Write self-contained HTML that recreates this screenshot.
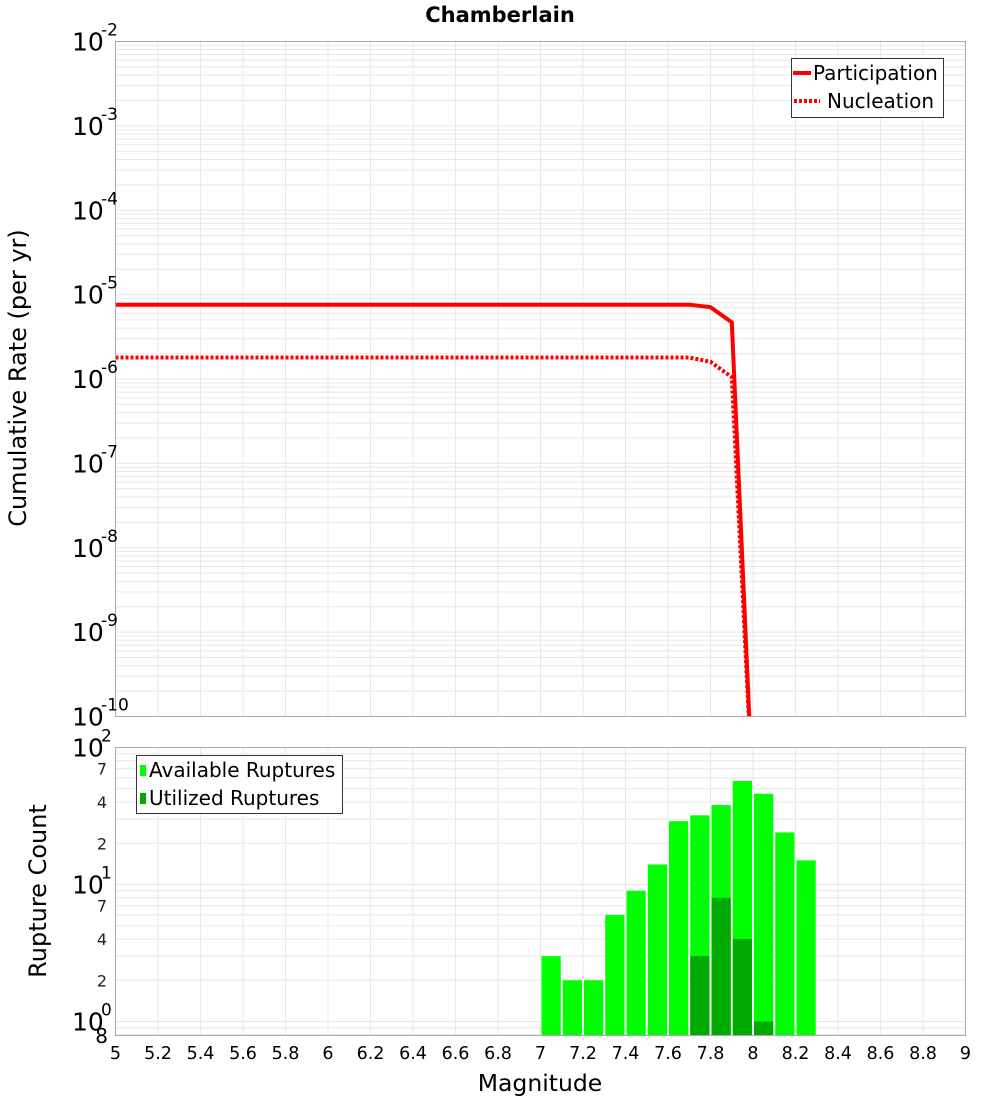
<!DOCTYPE html>
<html><head><meta charset="utf-8"><style>
body{margin:0;background:#fff;}
svg{display:block;font-family:"DejaVu Sans","Liberation Sans",sans-serif;}
</style></head><body>
<svg id="chart" width="1000" height="1100" viewBox="0 0 1000 1100">
<text x="500" y="22" text-anchor="middle" font-size="21" font-weight="bold">Chamberlain</text>
<g id="topplot"></g>
<g id="botplot"></g>
<text transform="translate(26,378) rotate(-90)" text-anchor="middle" font-size="24">Cumulative Rate (per yr)</text>
<text transform="translate(46,891) rotate(-90)" text-anchor="middle" font-size="24">Rupture Count</text>
<text x="540" y="1091" text-anchor="middle" font-size="23.5">Magnitude</text>
<g id="legends">
<g>
<rect x="791.5" y="58.5" width="152" height="59" fill="#fff" stroke="#333"/>
<line x1="793" y1="73" x2="811" y2="73" stroke="#f00" stroke-width="4"/>
<text x="813" y="80" font-size="20">Participation</text>
<line x1="794" y1="101" x2="820" y2="101" stroke="#f00" stroke-width="4" stroke-dasharray="3,2"/>
<text x="827" y="108" font-size="20">Nucleation</text>
</g>
<g>
<rect x="136.5" y="755.5" width="206" height="58" fill="#fff" stroke="#333"/>
<rect x="140" y="765" width="6" height="11" fill="#00ff00"/>
<text x="149" y="777" font-size="20">Available Ruptures</text>
<rect x="140" y="793" width="6" height="11" fill="#00aa00"/>
<text x="149" y="805" font-size="20">Utilized Ruptures</text>
</g>
</g>
</svg>
<script>
const mags = [5.0,5.1,5.2,5.3,5.4,5.5,5.6,5.7,5.8,5.9,6.0,6.1,6.2,6.3,6.4,6.5,6.6,6.7,6.8,6.9,7.0,7.1,7.2,7.3,7.4,7.5,7.6,7.7,7.8,7.9,8.0];
const participation = [7.6e-6,7.6e-6,7.6e-6,7.6e-6,7.6e-6,7.6e-6,7.6e-6,7.6e-6,7.6e-6,7.6e-6,7.6e-6,7.6e-6,7.6e-6,7.6e-6,7.6e-6,7.6e-6,7.6e-6,7.6e-6,7.6e-6,7.6e-6,7.6e-6,7.6e-6,7.6e-6,7.6e-6,7.6e-6,7.6e-6,7.6e-6,7.6e-6,7.1e-6,4.7e-6,1e-11];
const nucleation = [1.8e-6,1.8e-6,1.8e-6,1.8e-6,1.8e-6,1.8e-6,1.8e-6,1.8e-6,1.8e-6,1.8e-6,1.8e-6,1.8e-6,1.8e-6,1.8e-6,1.8e-6,1.8e-6,1.8e-6,1.8e-6,1.8e-6,1.8e-6,1.8e-6,1.8e-6,1.8e-6,1.8e-6,1.8e-6,1.8e-6,1.8e-6,1.8e-6,1.6e-6,1.05e-6,1e-11];
const binStarts = [7.0,7.1,7.2,7.3,7.4,7.5,7.6,7.7,7.8,7.9,8.0,8.1,8.2];
const available = [3,2,2,6,9,14,29,32,38,57,46,24,15];
const utilized = [0,0,0,0,0,0,0,3,8,4,1,0,0];
const xTicks = [5,5.2,5.4,5.6,5.8,6,6.2,6.4,6.6,6.8,7,7.2,7.4,7.6,7.8,8,8.2,8.4,8.6,8.8,9];
const topExps = [-2,-3,-4,-5,-6,-7,-8,-9,-10];
const botExps = [2,1,0];
const botMinor = [2,4,7];

const NS="http://www.w3.org/2000/svg";
const X0=115.5,X1=965.5;
const xs=m=>X0+(m-5)/4*(X1-X0);
const TT=41.5,TB=716.5;
const yT=v=>TT+(-2-Math.log10(v))/8*(TB-TT);
const BT=747.5,BB=1035.5,PD=137;
const yB=v=>BT+(2-Math.log10(v))*PD;
function mk(p,tag,a){const e=document.createElementNS(NS,tag);for(const k in a)e.setAttribute(k,a[k]);p.appendChild(e);return e;}
const svgEl=document.getElementById('chart');
const topG=document.getElementById('topplot'),botG=document.getElementById('botplot');

// top plot
mk(topG,'rect',{x:X0,y:TT,width:X1-X0,height:TB-TT,fill:'#fff'});
for(let d=-10;d<-2;d++)for(let k=1;k<10;k++){const y=yT(k*Math.pow(10,d));if(y<TT||y>TB)continue;
 const l=mk(topG,'line',{x1:X0,x2:X1,y1:y,y2:y,stroke:'#e8e8e8','stroke-width':1});
 
 }
for(const t of xTicks){const l=mk(topG,'line',{x1:xs(t),x2:xs(t),y1:TT,y2:TB,stroke:'#e8e8e8'});
 
 }
const defs=mk(svgEl,'defs',{});
const cp=mk(defs,'clipPath',{id:'cl'});mk(cp,'rect',{x:X0,y:TT,width:X1-X0,height:TB-TT});
function drawLine(vals,dash,name){const pts=mags.map((m,i)=>xs(m).toFixed(1)+','+yT(vals[i]).toFixed(1)).join(' ');
 const p=mk(topG,'polyline',{points:pts,fill:'none',stroke:'#f00','stroke-width':4,'clip-path':'url(#cl)'});
 if(dash)p.setAttribute('stroke-dasharray',dash);
 
 }
drawLine(nucleation,'3,2','nucleation-line');
drawLine(participation,null,'participation-line');
mk(topG,'rect',{x:X0,y:TT,width:X1-X0,height:TB-TT,fill:'none',stroke:'#aaa'});
for(const e of topExps){const y=yT(Math.pow(10,e));
 const t=mk(topG,'text',{x:72,y:y+9,'font-size':25});t.textContent='10';
 
 
 const s=mk(topG,'text',{x:101,y:y-6,'font-size':17});s.textContent=String(e);
 
 }

// bottom plot
mk(botG,'rect',{x:X0,y:BT,width:X1-X0,height:BB-BT,fill:'#fff'});
for(let d=-1;d<2;d++)for(let k=1;k<10;k++){const y=yB(k*Math.pow(10,d));if(y<BT||y>BB)continue;
 const l=mk(botG,'line',{x1:X0,x2:X1,y1:y,y2:y,stroke:'#e8e8e8'});
 
 }
for(const t of xTicks){const l=mk(botG,'line',{x1:xs(t),x2:xs(t),y1:BT,y2:BB,stroke:'#e8e8e8'});
 
 }
binStarts.forEach((m,i)=>{const bx=xs(m)+1,bw=xs(m+0.1)-xs(m)-2;
 const y=yB(available[i]);
 const r=mk(botG,'rect',{x:bx,y:y,width:bw,height:BB-y,fill:'#00ff00'});
 
 
 if(utilized[i]>0){const yu=yB(utilized[i]);
  const u=mk(botG,'rect',{x:bx,y:yu,width:bw,height:BB-yu,fill:'#00aa00'});
  
  }});
mk(botG,'rect',{x:X0,y:BT,width:X1-X0,height:BB-BT,fill:'none',stroke:'#aaa'});
for(const e of botExps){const y=yB(Math.pow(10,e));
 const t=mk(botG,'text',{x:72,y:y+9,'font-size':25});t.textContent='10';
 
 
 const s=mk(botG,'text',{x:101,y:y-6,'font-size':17});s.textContent=String(e);
 
 }
for(const d of [0,1])for(const k of botMinor){const y=yB(k*Math.pow(10,d));
 const t=mk(botG,'text',{x:107,y:y+6,'font-size':16,'text-anchor':'end',fill:'#222'});t.textContent=String(k);
 
 }
{const t=mk(botG,'text',{x:108,y:1043,'font-size':20,'text-anchor':'end'});t.textContent='8';
 
 }
for(const t of xTicks){const e=mk(botG,'text',{x:xs(t),y:1059,'font-size':17.5,'text-anchor':'middle'});
 e.textContent=String(t);
 
 }
svgEl.appendChild(document.getElementById('legends'));
</script>
</body></html>
